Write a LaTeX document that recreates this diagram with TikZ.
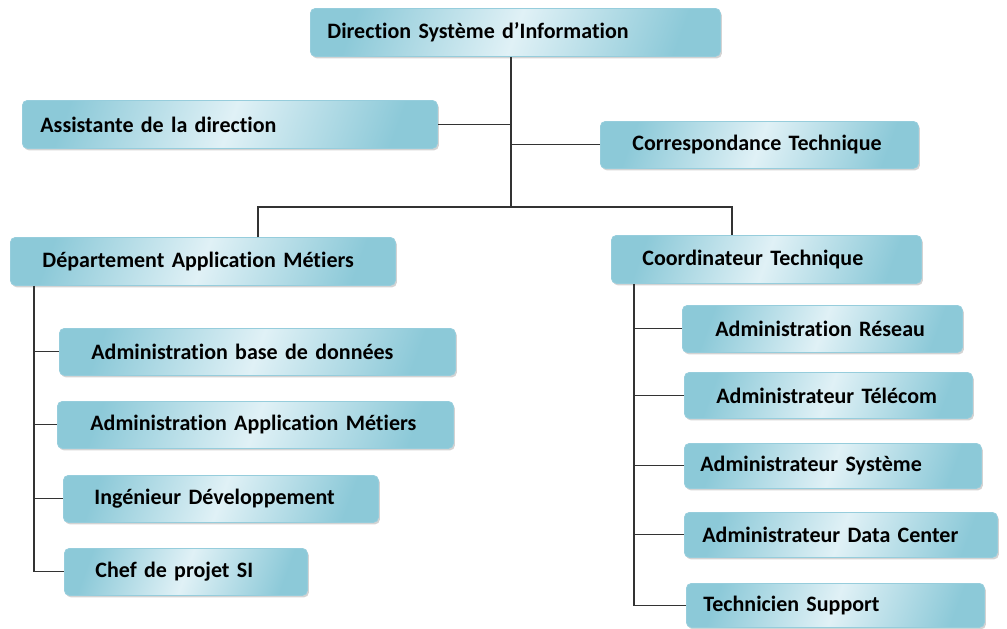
\documentclass[tikz,border=0pt]{standalone}
\usepackage{fontspec}
\setmainfont{Carlito}[Ligatures={NoCommon}]
\usepackage{tikz}
\usetikzlibrary{shadows}

\definecolor{boxedge}{RGB}{140,201,216}
\definecolor{boxmid}{RGB}{224,241,246}
\definecolor{boxline}{RGB}{150,205,220}

\begin{document}
\begin{tikzpicture}[x=1pt,y=-1pt,
  orgbox/.style={anchor=north west,rounded corners=5pt,draw=boxline,line width=0.8pt,
    left color=boxedge,right color=boxedge,middle color=boxmid,shading angle=70,
    drop shadow={shadow xshift=1.5pt,shadow yshift=-2pt,opacity=0.35},
    align=left,font=\fontsize{22}{26}\selectfont\bfseries,inner ysep=0pt},
  link/.style={line width=1.1pt,draw=black!80}]
  \useasboundingbox (0,0) rectangle (1007,629);

  \node[orgbox,inner xsep=17pt,text width=376pt,minimum height=48pt] (dsi) at (310,8) {Direction Système d’Information};
  \node[orgbox,inner xsep=18pt,text width=379pt,minimum height=48pt] (asst) at (22,100) {Assistante de la direction};
  \node[orgbox,inner xsep=32pt,text width=254pt,minimum height=47pt] (corr) at (600,121) {Correspondance Technique};
  \node[orgbox,inner xsep=32pt,text width=321pt,minimum height=48pt] (dept) at (10,237) {Département Application Métiers};
  \node[orgbox,inner xsep=31pt,text width=248pt,minimum height=48pt] (coord) at (611,235) {Coordinateur Technique};

  \node[orgbox,inner xsep=32pt,text width=332pt,minimum height=47pt] (abdd) at (59,328) {Administration base de données};
  \node[orgbox,inner xsep=33pt,text width=330pt,minimum height=47pt] (aapp) at (57,401) {Administration Application Métiers};
  \node[orgbox,inner xsep=31pt,text width=253pt,minimum height=47pt] (ingdev) at (63,475) {Ingénieur Développement};
  \node[orgbox,inner xsep=31pt,text width=181pt,minimum height=47pt] (chef) at (64,548) {Chef de projet SI};

  \node[orgbox,inner xsep=33pt,text width=214pt,minimum height=47pt] (ares) at (682,305) {Administration Réseau};
  \node[orgbox,inner xsep=32pt,text width=224pt,minimum height=46pt] (atel) at (684,372) {Administrateur Télécom};
  \node[orgbox,inner xsep=16pt,text width=265pt,minimum height=45pt] (asys) at (684,443) {Administrateur Système};
  \node[orgbox,inner xsep=18pt,text width=277pt,minimum height=45pt] (adc) at (684,512) {Administrateur Data Center};
  \node[orgbox,inner xsep=17pt,text width=264pt,minimum height=44pt] (tech) at (686,583) {Technicien Support};

  % direction
  \coordinate (hub) at (511,207);
  \coordinate (busL) at (258,207);
  \coordinate (busR) at (732,207);
  \draw[link] (hub |- dsi.south) -- (hub);
  \draw[link] (asst.east) -- (asst.east -| hub);
  \draw[link] (corr.west) -- (corr.west -| hub);
  \draw[link] (busL |- dept.north) -- (busL) -- (busR) -- (busR |- coord.north);

  % departement
  \coordinate (ltrunk) at (34,0);
  \draw[link] (dept.south -| ltrunk) -- (ltrunk |- chef.west) -- (chef.west);
  \foreach \n in {abdd,aapp,ingdev}
    \draw[link] (ltrunk |- \n.west) -- (\n.west);

  % coordination
  \coordinate (rtrunk) at (634,0);
  \draw[link] (coord.south -| rtrunk) -- (rtrunk |- tech.west) -- (tech.west);
  \foreach \n in {ares,atel,asys,adc}
    \draw[link] (rtrunk |- \n.west) -- (\n.west);
\end{tikzpicture}
\end{document}
